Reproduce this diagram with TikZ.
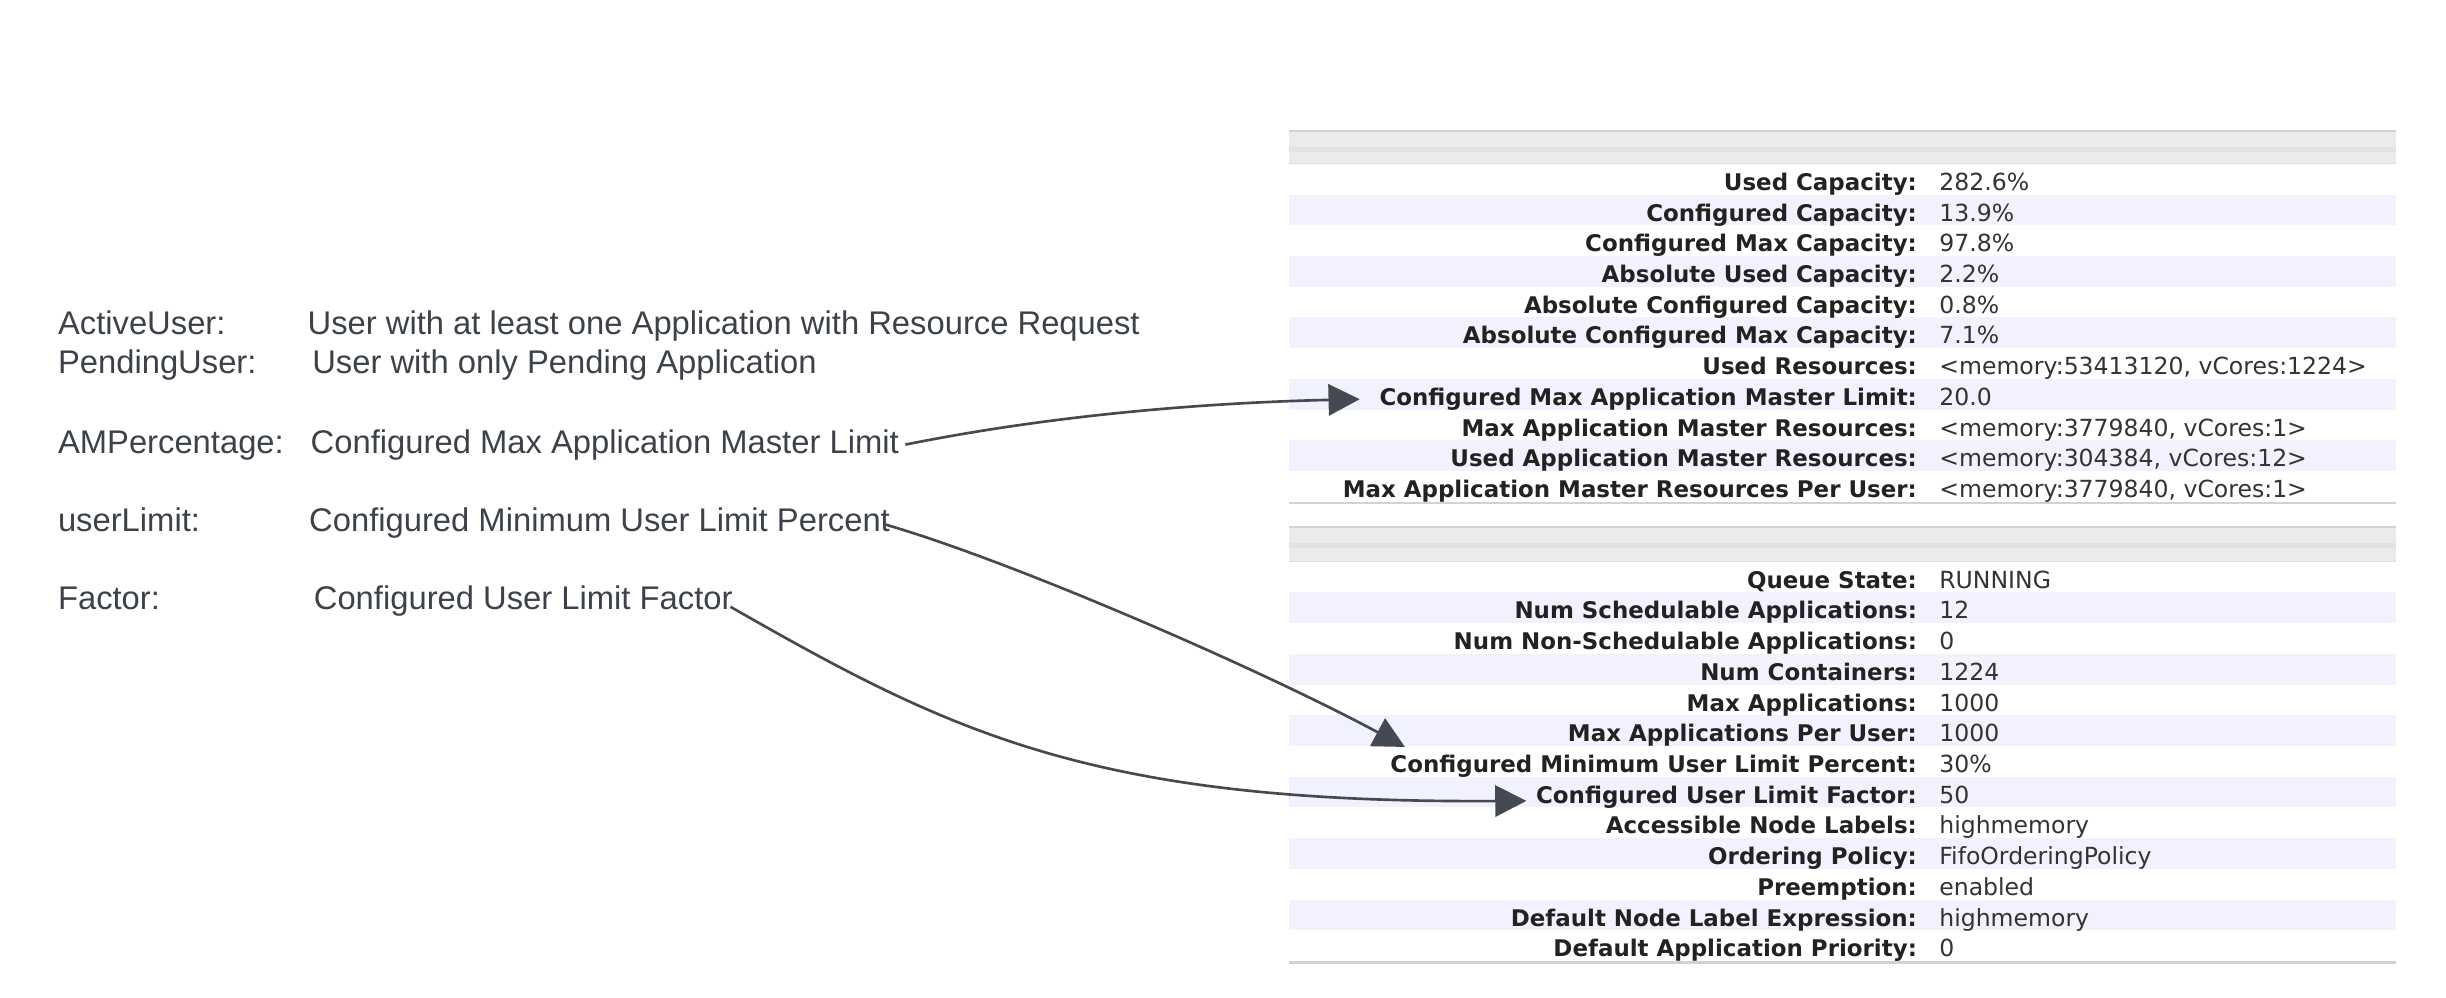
\documentclass[tikz,border=0pt]{standalone}
\usepackage{fontspec}
\setmainfont{Liberation Sans}
\newfontfamily\tablefont{DejaVu Sans}
\usepackage{tikz}
\usetikzlibrary{arrows.meta}
\definecolor{InkGray}{HTML}{3D424A}
\definecolor{ArrowGray}{HTML}{454A52}
\definecolor{RowShade}{HTML}{F2F2FE}
\definecolor{HeadGray}{HTML}{EBEBEB}
\definecolor{HeadStripe}{HTML}{E2E2E2}
\definecolor{RuleGray}{HTML}{D2D2D2}
\definecolor{LabelInk}{HTML}{222222}
\definecolor{ValueInk}{HTML}{333333}

\begin{document}
\begin{tikzpicture}[x=1pt,y=-1pt,inner sep=0pt,
  term/.style={anchor=base west,text=InkGray,font=\fontsize{21}{24}\selectfont},
  desc/.style={anchor=base west,text=InkGray,font=\fontsize{21}{24}\selectfont},
  lbl/.style={anchor=base east,text=LabelInk,font=\tablefont\bfseries\fontsize{14.7}{17}\selectfont},
  val/.style={anchor=base west,text=ValueInk,font=\tablefont\fontsize{15.1}{17}\selectfont},
  link/.style={draw=ArrowGray,line width=1.7pt,-{Triangle[length=20pt,width=20pt]}}]
\useasboundingbox (0,0) rectangle (1568,639.76);
%Table Backgrounds
\fill [HeadGray] (826,84) rectangle (1536,105);
\fill [HeadStripe] (826,94) rectangle (1536,97.5);
\draw [RuleGray,line width=1.2pt] (826,84) -- (1536,84);
\draw [RuleGray!70,line width=0.8pt] (826,105) -- (1536,105);
\fill [RowShade] (826,124.7) rectangle (1536,144.4);
\fill [RowShade] (826,164.1) rectangle (1536,183.8);
\fill [RowShade] (826,203.5) rectangle (1536,223.2);
\fill [RowShade] (826,242.9) rectangle (1536,262.6);
\fill [RowShade] (826,282.3) rectangle (1536,302.0);
\draw [RuleGray,line width=1.5pt] (826,322.5) -- (1536,322.5);
\fill [HeadGray] (826,338) rectangle (1536,360);
\fill [HeadStripe] (826,348) rectangle (1536,351.5);
\draw [RuleGray,line width=1.2pt] (826,338) -- (1536,338);
\draw [RuleGray!70,line width=0.8pt] (826,360) -- (1536,360);
\fill [RowShade] (826,379.7) rectangle (1536,399.4);
\fill [RowShade] (826,419.1) rectangle (1536,438.8);
\fill [RowShade] (826,458.5) rectangle (1536,478.2);
\fill [RowShade] (826,497.9) rectangle (1536,517.6);
\fill [RowShade] (826,537.3) rectangle (1536,557.0);
\fill [RowShade] (826,576.7) rectangle (1536,596.4);
\draw [RuleGray,line width=1.5pt] (826,617) -- (1536,617);
%Terms
\node at (37,214.5) [term] (Term1) {ActiveUser:};
\node at (37,239.5) [term] (Term2) {PendingUser:};
\node at (37,290.5) [term] (Term3) {AMPercentage:};
\node at (37,340.5) [term] (Term4) {userLimit:};
\node at (37,390.5) [term] (Term5) {Factor:};
%Descriptions
\node at (197,214.5) [desc] (Desc1) {User with at least one Application with Resource Request};
\node at (200,239.5) [desc] (Desc2) {User with only Pending Application};
\node at (199,290.5) [desc] (Desc3) {Configured Max Application Master Limit};
\node at (198,340.5) [desc] (Desc4) {Configured Minimum User Limit Percent};
\node at (201,390.5) [desc] (Desc5) {Configured User Limit Factor};
%Queue Labels
\node at (1229,122) [lbl] (Label1) {Used Capacity:};
\node at (1229,141.7) [lbl] (Label2) {Configured Capacity:};
\node at (1229,161.4) [lbl] (Label3) {Configured Max Capacity:};
\node at (1229,181.1) [lbl] (Label4) {Absolute Used Capacity:};
\node at (1229,200.8) [lbl] (Label5) {Absolute Configured Capacity:};
\node at (1229,220.5) [lbl] (Label6) {Absolute Configured Max Capacity:};
\node at (1229,240.2) [lbl] (Label7) {Used Resources:};
\node at (1229,259.9) [lbl] (Label8) {Configured Max Application Master Limit:};
\node at (1229,279.6) [lbl] (Label9) {Max Application Master Resources:};
\node at (1229,299.3) [lbl] (Label10) {Used Application Master Resources:};
\node at (1229,319.0) [lbl] (Label11) {Max Application Master Resources Per User:};
\node at (1229,377.0) [lbl] (Label12) {Queue State:};
\node at (1229,396.7) [lbl] (Label13) {Num Schedulable Applications:};
\node at (1229,416.4) [lbl] (Label14) {Num Non-Schedulable Applications:};
\node at (1229,436.1) [lbl] (Label15) {Num Containers:};
\node at (1229,455.8) [lbl] (Label16) {Max Applications:};
\node at (1229,475.5) [lbl] (Label17) {Max Applications Per User:};
\node at (1229,495.2) [lbl] (Label18) {Configured Minimum User Limit Percent:};
\node at (1229,514.9) [lbl] (Label19) {Configured User Limit Factor:};
\node at (1229,534.6) [lbl] (Label20) {Accessible Node Labels:};
\node at (1229,554.3) [lbl] (Label21) {Ordering Policy:};
\node at (1229,574.0) [lbl] (Label22) {Preemption:};
\node at (1229,593.7) [lbl] (Label23) {Default Node Label Expression:};
\node at (1229,613.4) [lbl] (Label24) {Default Application Priority:};
%Queue Values
\node at (1243,122) [val] (Value1) {282.6\%};
\node at (1243,141.7) [val] (Value2) {13.9\%};
\node at (1243,161.4) [val] (Value3) {97.8\%};
\node at (1243,181.1) [val] (Value4) {2.2\%};
\node at (1243,200.8) [val] (Value5) {0.8\%};
\node at (1243,220.5) [val] (Value6) {7.1\%};
\node at (1243,240.2) [val] (Value7) {<memory:53413120, vCores:1224>};
\node at (1243,259.9) [val] (Value8) {20.0};
\node at (1243,279.6) [val] (Value9) {<memory:3779840, vCores:1>};
\node at (1243,299.3) [val] (Value10) {<memory:304384, vCores:12>};
\node at (1243,319.0) [val] (Value11) {<memory:3779840, vCores:1>};
\node at (1243,377.0) [val] (Value12) {RUNNING};
\node at (1243,396.7) [val] (Value13) {12};
\node at (1243,416.4) [val] (Value14) {0};
\node at (1243,436.1) [val] (Value15) {1224};
\node at (1243,455.8) [val] (Value16) {1000};
\node at (1243,475.5) [val] (Value17) {1000};
\node at (1243,495.2) [val] (Value18) {30\%};
\node at (1243,514.9) [val] (Value19) {50};
\node at (1243,534.6) [val] (Value20) {highmemory};
\node at (1243,554.3) [val] (Value21) {FifoOrderingPolicy};
\node at (1243,574.0) [val] (Value22) {enabled};
\node at (1243,593.7) [val] (Value23) {highmemory};
\node at (1243,613.4) [val] (Value24) {0};
%Arrow Ends
\coordinate (Start1) at ([xshift=4pt,yshift=5.5pt]Desc3.base east);
\coordinate (Start2) at ([xshift=-4pt,yshift=4.5pt]Desc4.base east);
\coordinate (Start3) at ([xshift=-1.5pt,yshift=1.5pt]Desc5.base east);
\coordinate (Tip1) at ([xshift=-12.5pt]Label8.west);
\coordinate (Tip2) at ([xshift=9.5pt,yshift=5pt]Label18.north west);
\coordinate (Tip3) at ([xshift=-6pt,yshift=-2.5pt]Label19.west);
%connections
\draw [link] (Start1) .. controls (680,265) and (780,258) .. (Tip1);
\draw [link] (Start2) .. controls (650,360) and (810,430) .. (Tip2);
\draw [link] (Start3) .. controls (610,470) and (700,515) .. (Tip3);

\end{tikzpicture}
\end{document}
